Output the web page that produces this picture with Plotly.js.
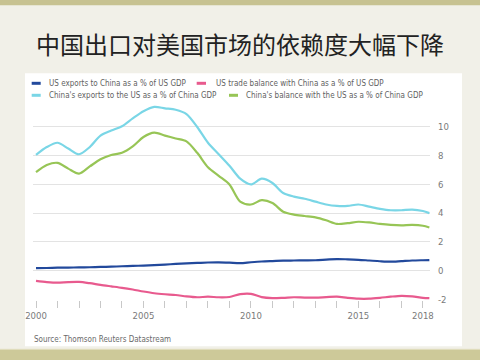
<!DOCTYPE html>
<html>
<head>
<meta charset="utf-8">
<script src="https://cdn.plot.ly/plotly-3.0.1.min.js"></script>
<style>html,body{margin:0;padding:0;background:#f1f0e8;}#chart{width:480px;height:360px;}</style>
</head>
<body>
<div id="chart"></div>
<script>
// ---- data ----
const titleText = "中国出口对美国市场的依赖度大幅下降";
const sourceText = "Source: Thomson Reuters Datastream";
const seriesNames = [
  "US exports to China as a % of US GDP",
  "US trade balance with China as a % of US GDP",
  "China's exports to the US as a % of China GDP",
  "China's balance with the US as a % of China GDP"
];
const dates = [2000.0,2000.5,2001.0,2001.5,2002.0,2002.5,2003.0,2003.5,2004.0,2004.5,
  2005.0,2005.5,2006.0,2006.5,2007.0,2007.5,2008.0,2008.5,2009.0,2009.5,
  2010.0,2010.5,2011.0,2011.5,2012.0,2012.5,2013.0,2013.5,2014.0,2014.5,
  2015.0,2015.5,2016.0,2016.5,2017.0,2017.5,2018.0,2018.3];
const usExports = [0.17,0.18,0.20,0.21,0.22,0.23,0.25,0.27,0.30,0.32,
  0.35,0.38,0.42,0.46,0.50,0.53,0.56,0.57,0.55,0.52,
  0.58,0.63,0.66,0.69,0.70,0.71,0.72,0.76,0.80,0.78,
  0.75,0.70,0.65,0.62,0.66,0.70,0.72,0.73];
const usBalance = [-0.72,-0.80,-0.84,-0.80,-0.79,-0.88,-1.00,-1.10,-1.20,-1.32,
  -1.46,-1.58,-1.65,-1.70,-1.80,-1.86,-1.82,-1.86,-1.84,-1.64,
  -1.62,-1.85,-1.92,-1.90,-1.86,-1.88,-1.88,-1.85,-1.82,-1.90,
  -1.96,-1.96,-1.90,-1.82,-1.76,-1.80,-1.90,-1.92];
const chinaExports = [8.05,8.60,8.90,8.50,8.10,8.60,9.40,9.75,10.05,10.60,
  11.10,11.40,11.30,11.20,10.90,10.00,8.90,8.10,7.30,6.40,
  6.00,6.40,6.10,5.40,5.15,5.00,4.80,4.60,4.50,4.50,
  4.60,4.45,4.30,4.20,4.20,4.25,4.15,4.00];
const chinaBalance = [6.85,7.35,7.50,7.10,6.75,7.25,7.75,8.05,8.20,8.65,
  9.30,9.60,9.40,9.20,9.00,8.20,7.20,6.60,6.00,4.80,
  4.60,4.90,4.70,4.10,3.90,3.80,3.70,3.50,3.25,3.30,
  3.40,3.35,3.25,3.18,3.15,3.18,3.12,3.00];
const xTickVals = [2000,2005,2010,2015,2018];
const xTickText = ["2000","2005","2010","2015","2018"];
const yTickVals = [-2,0,2,4,6,8,10];
const yTickText = ["-2","0","2","4","6","8","10"];

// ---- styles ----
const colors = ["#22499c","#e85a8e","#7ad6e6","#97c556"];
const seriesData = [usExports, usBalance, chinaExports, chinaBalance];
const FONT = "'DejaVu Sans Condensed', Arial, sans-serif";
const grey = "#7a7a7a";

const traces = seriesData.map((vals, i) => ({
  x: dates, y: vals, name: seriesNames[i], type: "scatter", mode: "lines",
  line: {color: colors[i], width: 2.2, shape: "spline", smoothing: 0.8},
  showlegend: false, hoverinfo: "skip"
}));

// legend (manual, to reproduce the flowing two-row layout)
const legendRows = [1.1056, 1.1056, 1.0444, 1.0444];
const legendLineX = [[-0.0033,0.0194],[0.4123,0.4358],[-0.0033,0.0194],[0.4937,0.5164]];
const legendTextX = [0.0345, 0.4559, 0.0345, 0.5315];

const shapes = [
  {type:"rect", xref:"paper", yref:"paper", x0:-0.0202, x1:1.0806, y0:-0.236, y1:1.157,
   fillcolor:"#ffffff", line:{width:0}, layer:"below"},
  {type:"rect", xref:"paper", yref:"paper", x0:-0.2, x1:1.3, y0:1.5036, y1:1.7,
   fillcolor:"#c7c291", line:{width:0}, layer:"below"},
  {type:"rect", xref:"paper", yref:"paper", x0:-0.2, x1:1.3, y0:-0.45, y1:-0.2515,
   fillcolor:"#cdc999", line:{width:0}, layer:"below"},
  {type:"line", xref:"paper", yref:"paper", x0:-0.2, x1:1.3, y0:-0.2515, y1:-0.2515,
   line:{color:"#e2dfc0", width:1}, layer:"below"}
];
const annotations = [];
for (let i = 0; i < 4; i++) {
  shapes.push({type:"line", xref:"paper", yref:"paper", x0:legendLineX[i][0], x1:legendLineX[i][1],
    y0:legendRows[i], y1:legendRows[i], line:{color:colors[i], width:3}});
  annotations.push({xref:"paper", yref:"paper", x:legendTextX[i], y:legendRows[i],
    xanchor:"left", yanchor:"middle", showarrow:false, text:seriesNames[i],
    font:{family:FONT, size:8, color:"#5f5f5f"}});
}
annotations.push({xref:"paper", yref:"paper", x:-0.0025, y:-0.2005, xanchor:"left", yanchor:"middle",
  showarrow:false, text:sourceText, font:{family:FONT, size:8, color:"#6a6a6a"}});

const layout = {
  width: 480, height: 360,
  margin: {l:33, r:50, t:103.7, b:60.3, pad:0},
  paper_bgcolor: "#f1f0e8",
  plot_bgcolor: "rgba(0,0,0,0)",
  title: {text: titleText, x:0.5, xref:"container", xanchor:"center", y:1-46/360, yref:"container", yanchor:"middle",
    font:{family:"'Noto Sans CJK SC', sans-serif", size:24, color:"#222222"}},
  xaxis: {range:[1999.86, 2018.33], tickvals:xTickVals, ticktext:xTickText, ticks:"outside", ticklen:7,
    tickcolor:"#c8c8c8", tickwidth:1, showgrid:false, zeroline:false, showline:false,
    minor:{dtick:1, tick0:2000, ticks:"outside", ticklen:7, tickcolor:"#c8c8c8", tickwidth:1, showgrid:false},
    tickfont:{family:FONT, size:9.5, color:grey}, fixedrange:true},
  yaxis: {range:[-2.05, 11.6], side:"right", tickvals:yTickVals, ticktext:yTickText, ticks:"",
    showgrid:true, gridcolor:"#e3e3e3", gridwidth:1, zeroline:false, showline:false,
    tickfont:{family:FONT, size:9.5, color:grey}, ticklabelstandoff:7, fixedrange:true},
  shapes: shapes,
  annotations: annotations,
  showlegend: false
};

Plotly.newPlot("chart", traces, layout, {displayModeBar:false, staticPlot:true});
</script>
</body>
</html>
